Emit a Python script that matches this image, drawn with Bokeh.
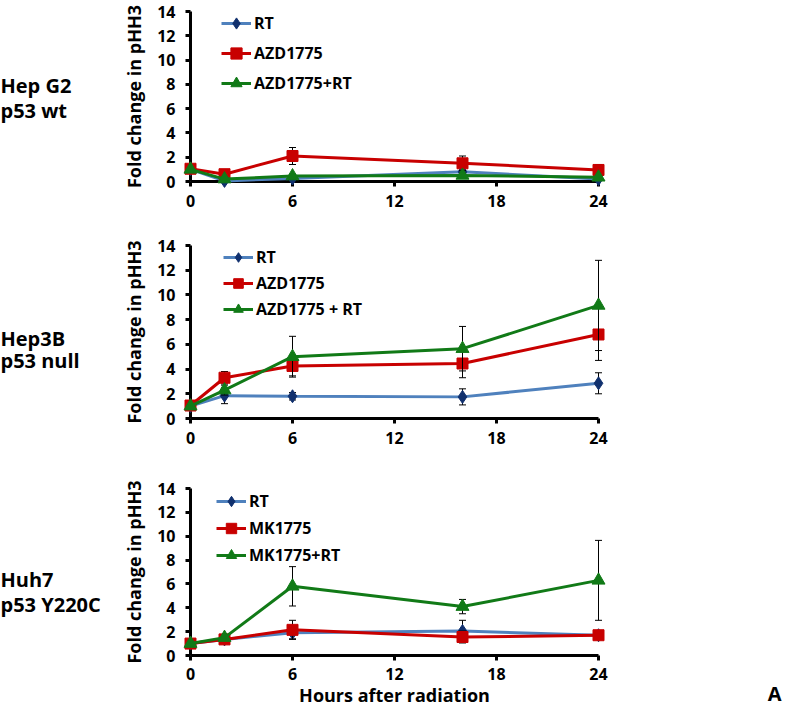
from bokeh.plotting import figure
from bokeh.layouts import column
from bokeh.models import Range1d, FixedTicker, Legend, LegendItem
from bokeh.core.properties import value
from bokeh.embed import file_html
from bokeh.resources import INLINE

hours = [0, 2, 6, 16, 24]
x_ticks = [0, 6, 12, 18, 24]
y_ticks = [0, 2, 4, 6, 8, 10, 12, 14]

# Hep G2 (p53 wt)
hepg2_labels = ["RT", "AZD1775", "AZD1775+RT"]
hepg2_rt = [1.0, 0.05, 0.25, 0.8, 0.2]
hepg2_rt_err = [0.1, 0.05, 0.1, 0.2, 0.1]
hepg2_azd = [1.05, 0.6, 2.1, 1.5, 0.95]
hepg2_azd_err = [0.1, 0.1, 0.7, 0.6, 0.45]
hepg2_combo = [1.0, 0.2, 0.45, 0.5, 0.35]
hepg2_combo_err = [0.1, 0.1, 0.15, 0.2, 0.1]

# Hep3B (p53 null)
hep3b_labels = ["RT", "AZD1775", "AZD1775 + RT"]
hep3b_rt = [1.0, 1.85, 1.8, 1.75, 2.85]
hep3b_rt_err = [0.1, 0.65, 0.3, 0.65, 0.85]
hep3b_azd = [1.05, 3.3, 4.25, 4.45, 6.8]
hep3b_azd_err = [0.1, 0.5, 0.8, 1.15, 2.1]
hep3b_combo = [1.0, 2.3, 5.0, 5.65, 9.15]
hep3b_combo_err = [0.1, 0.4, 1.65, 1.8, 3.65]

# Huh7 (p53 Y220C)
huh7_labels = ["RT", "MK1775", "MK1775+RT"]
huh7_rt = [1.0, 1.35, 1.9, 2.05, 1.7]
huh7_rt_err = [0.1, 0.1, 0.5, 0.9, 0.2]
huh7_mk = [1.0, 1.35, 2.15, 1.55, 1.7]
huh7_mk_err = [0.1, 0.1, 0.8, 0.5, 0.2]
huh7_combo = [1.0, 1.5, 5.8, 4.1, 6.3]
huh7_combo_err = [0.1, 0.1, 1.65, 0.6, 3.35]

LINE_COLORS = ["#4F81BD", "#C80000", "#117A17"]
MARK_COLORS = ["#10306E", "#C80000", "#117A17"]
MARKERS = ["diamond", "square", "triangle"]
MSIZES = [13, 11, 13]
FONT = "Open Sans"

W = 784
BL, BR = 190, 186
FRAME_W = W - BL - BR


def panel(name1, name2, labels, series, errs, H, top, bottom,
          mid1, mid2, leg, xstandoff, xlabel=None, corner=None):
    frame_h = H - top - bottom
    p = figure(width=W, height=H, x_range=Range1d(0, 24), y_range=Range1d(0, 14),
               output_backend="svg", toolbar_location=None, title=None,
               min_border_left=BL, min_border_right=BR,
               min_border_top=top, min_border_bottom=bottom)
    p.grid.visible = False
    p.outline_line_color = None
    p.xaxis.ticker = FixedTicker(ticks=x_ticks)
    p.yaxis.ticker = FixedTicker(ticks=y_ticks)
    for ax in p.axis:
        ax.axis_line_width = 3
        ax.axis_line_color = "black"
        ax.major_tick_line_width = 3
        ax.major_tick_line_color = "black"
        ax.major_tick_out = 5
        ax.major_tick_in = 0
        ax.minor_tick_line_color = None
        ax.major_label_text_font = FONT
        ax.major_label_text_font_style = "bold"
        ax.major_label_text_font_size = "16px"
        ax.major_label_text_color = "black"
        ax.axis_label_text_font = FONT
        ax.axis_label_text_font_style = "bold"
        ax.axis_label_text_font_size = "18px"
        ax.axis_label_text_color = "black"
    p.yaxis.major_label_standoff = 10
    p.yaxis.axis_label = "Fold change in pHH3"
    p.yaxis.axis_label_standoff = 8
    p.xaxis.major_label_standoff = xstandoff
    if xlabel:
        p.xaxis.axis_label = xlabel
        p.xaxis.axis_label_standoff = 0

    items = []
    for i, (vals, err) in enumerate(zip(series, errs)):
        lo = [v - e for v, e in zip(vals, err)]
        hi = [v + e for v, e in zip(vals, err)]
        p.segment(x0=hours, y0=lo, x1=hours, y1=hi, line_color="black",
                  line_width=1, level="annotation")
        p.scatter(x=hours + hours, y=lo + hi, marker="dash", size=7,
                  line_color="black", line_width=1, level="annotation")
        ln = p.line(hours, vals, line_color=LINE_COLORS[i], line_width=3,
                    level="annotation")
        mk = p.scatter(hours, vals, marker=MARKERS[i], size=MSIZES[i],
                       fill_color=MARK_COLORS[i], line_color=MARK_COLORS[i],
                       level="annotation")
        items.append(LegendItem(label=labels[i], renderers=[ln, mk]))

    vx, top_off, gh, sp = leg
    leg_h = 3 * gh + 2 * sp
    vy = frame_h - top_off - leg_h
    legend = Legend(items=items, location=(vx, vy), padding=0, margin=0,
                    spacing=sp, glyph_width=30, glyph_height=gh,
                    label_height=gh, label_standoff=3,
                    border_line_color=None, background_fill_alpha=0,
                    label_text_font=FONT, label_text_font_style="bold",
                    label_text_font_size="16px", label_text_color="black")
    p.add_layout(legend)

    # cell-line labels in the left margin (pixel offsets -> data units)
    lx = -BL * 24 / FRAME_W
    ys = [(frame_h + top - m) * 14 / frame_h for m in (mid1, mid2)]
    p.text(x=[lx, lx], y=ys, text=[name1, name2], text_font=value(FONT),
           text_font_style="bold", text_font_size="20px", text_color="black",
           text_baseline="middle", text_align="left", level="annotation")
    if corner:
        cx = 24 + (W - 3 - BL - FRAME_W) * 24 / FRAME_W
        cy = -(bottom - 14) * 14 / frame_h
        p.text(x=[cx], y=[cy], text=[corner], text_font=value(FONT),
               text_font_style="bold", text_font_size="20px", text_color="black",
               text_baseline="middle", text_align="right", level="annotation")
    return p


p1 = panel("Hep G2", "p53 wt", hepg2_labels,
           [hepg2_rt, hepg2_azd, hepg2_combo],
           [hepg2_rt_err, hepg2_azd_err, hepg2_combo_err],
           H=229, top=11, bottom=48, mid1=85, mid2=110,
           leg=(31, -2, 28, 2), xstandoff=8)
p2 = panel("Hep3B", "p53 null", hep3b_labels,
           [hep3b_rt, hep3b_azd, hep3b_combo],
           [hep3b_rt_err, hep3b_azd_err, hep3b_combo_err],
           H=237, top=16, bottom=48, mid1=338 - 229, mid2=360 - 229,
           leg=(33, 0, 24, 2), xstandoff=8)
p3 = panel("Huh7", "p53 Y220C", huh7_labels,
           [huh7_rt, huh7_mk, huh7_combo],
           [huh7_rt_err, huh7_mk_err, huh7_combo_err],
           H=243, top=22, bottom=52, mid1=580 - 466, mid2=605 - 466,
           leg=(26, 2, 26, 1), xstandoff=7,
           xlabel="Hours after radiation", corner="A")

layout = column(p1, p2, p3, spacing=0)
open("out.html", "w").write(file_html(layout, INLINE))
